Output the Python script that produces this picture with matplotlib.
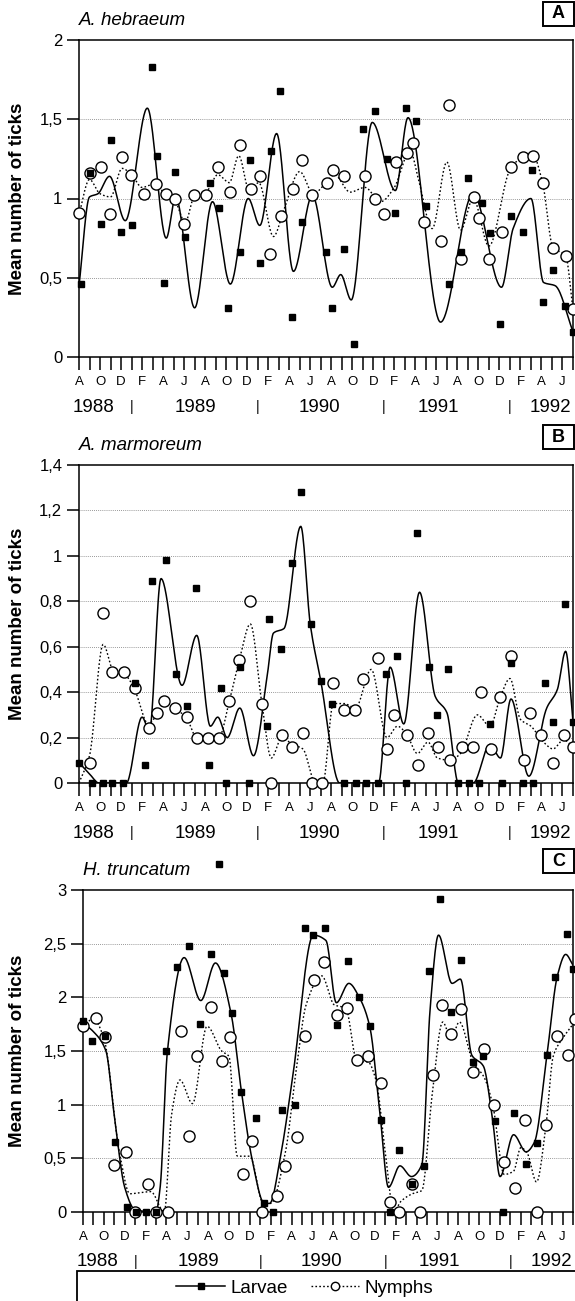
import numpy as np
import matplotlib
matplotlib.use("Agg")
import matplotlib.pyplot as plt
from matplotlib.lines import Line2D
from matplotlib.patches import Rectangle

plt.rcParams['font.family'] = ['Liberation Sans', 'DejaVu Sans']

# ----- Axis labels (months counted from Aug 1988 = 0) -----
month_labels = ['A', 'O', 'D', 'F', 'A', 'J'] * 4          # every 2nd month
years = ['1988', '1989', '1990', '1991', '1992']
year_pos = [1.4, 11.1, 22.9, 34.2, 44.9]
year_breaks = [5, 17, 29, 41]                              # January

# ----- A. hebraeum -----
heb_larvae = [(0.2, 0.46), (1.05, 1.16), (2.1, 0.84), (3.0, 1.37), (4.0, 0.79), (5.0, 0.83),
              (6.95, 1.83), (7.4, 1.27), (8.1, 0.47), (9.1, 1.17), (10.1, 0.76), (12.5, 1.10),
              (13.3, 0.94), (14.2, 0.31), (15.3, 0.66), (16.3, 1.24), (17.2, 0.59), (18.3, 1.30),
              (19.1, 1.68), (20.3, 0.25), (21.2, 0.85), (23.5, 0.66), (24.1, 0.31), (25.2, 0.68),
              (26.2, 0.08), (27.0, 1.44), (28.2, 1.55), (29.3, 1.25), (30.1, 0.91), (31.1, 1.57),
              (32.1, 1.49), (33.0, 0.95), (35.2, 0.46), (36.3, 0.66), (37.0, 1.13), (38.3, 0.97),
              (39.1, 0.78), (40.1, 0.21), (41.1, 0.89), (42.2, 0.79), (43.1, 1.18), (44.1, 0.35),
              (45.1, 0.55), (46.2, 0.32), (47.0, 0.16)]
heb_nymphs = [(0.0, 0.91), (1.05, 1.16), (2.1, 1.20), (2.95, 0.90), (4.1, 1.26), (4.9, 1.15),
              (6.2, 1.03), (7.3, 1.09), (8.3, 1.03), (9.1, 1.00), (10.0, 0.84), (10.9, 1.02),
              (12.1, 1.02), (13.2, 1.20), (14.4, 1.04), (15.3, 1.34), (16.4, 1.06), (17.2, 1.14),
              (18.2, 0.65), (19.2, 0.89), (20.4, 1.06), (21.2, 1.24), (22.2, 1.02), (23.6, 1.10),
              (24.2, 1.18), (25.2, 1.14), (27.2, 1.14), (28.2, 1.00), (29.0, 0.90), (30.2, 1.23),
              (31.2, 1.29), (31.8, 1.35), (32.8, 0.85), (34.4, 0.73), (35.2, 1.59), (36.3, 0.62),
              (37.6, 1.01), (38.1, 0.88), (39.0, 0.62), (40.2, 0.79), (41.1, 1.20), (42.2, 1.26),
              (43.2, 1.27), (44.1, 1.10), (45.1, 0.69), (46.3, 0.64), (47.0, 0.30)]
heb_larvae_fit = [(0.0, 0.45), (1.0, 1.01), (1.8, 1.03), (2.9, 1.14), (4.4, 0.86), (6.5, 1.57),
                  (8.3, 0.75), (9.2, 1.01), (11.0, 0.31), (12.7, 0.98), (14.4, 0.46), (16.1, 1.00),
                  (17.2, 0.83), (18.8, 1.41), (20.4, 0.54), (22.2, 1.02), (24.1, 0.44), (24.9, 0.52),
                  (25.9, 0.36), (27.9, 1.48), (30.1, 1.05), (31.3, 1.51), (34.4, 0.22), (37.5, 1.03),
                  (40.2, 0.44), (41.3, 0.81), (43.0, 1.00), (44.2, 0.47), (45.3, 0.45), (47.0, 0.16)]
heb_nymphs_fit = [(0.0, 0.90), (1.0, 1.12), (2.0, 1.03), (3.0, 1.01), (4.1, 1.19), (5.0, 1.15),
                  (6.0, 1.07), (7.1, 1.09), (8.2, 1.03), (9.1, 0.99), (10.1, 0.85), (11.0, 1.02),
                  (12.2, 1.05), (13.2, 1.15), (14.3, 1.10), (15.2, 1.27), (16.2, 1.05), (17.1, 1.10),
                  (18.5, 0.76), (19.5, 0.93), (21.0, 1.17), (22.3, 1.03), (23.5, 1.10), (24.3, 1.15),
                  (25.8, 1.04), (27.2, 1.07), (28.7, 0.98), (30.0, 1.07), (31.5, 1.30), (32.3, 1.12),
                  (33.6, 0.81), (35.0, 1.23), (36.3, 0.80), (37.5, 1.00), (39.0, 0.70), (41.0, 1.18),
                  (42.2, 1.26), (43.2, 1.27), (44.1, 1.10), (45.1, 0.69), (46.3, 0.64), (47.0, 0.30)]

# ----- A. marmoreum -----
mar_larvae = [(0.0, 0.09), (1.2, 0.0), (2.3, 0.0), (3.1, 0.0), (4.2, 0.0), (5.3, 0.44), (6.3, 0.08),
              (6.9, 0.89), (8.3, 0.98), (9.2, 0.48), (10.3, 0.34), (11.1, 0.86), (12.4, 0.08),
              (13.5, 0.42), (14.0, 0.0), (15.3, 0.51), (16.2, 0.0), (17.9, 0.25), (18.1, 0.72),
              (19.2, 0.59), (20.3, 0.97), (21.1, 1.28), (22.1, 0.70), (23.0, 0.45), (24.1, 0.35),
              (25.2, 0.0), (26.4, 0.0), (27.3, 0.0), (28.4, 0.0), (29.2, 0.48), (30.3, 0.56),
              (31.1, 0.0), (32.2, 1.10), (33.3, 0.51), (34.1, 0.30), (35.1, 0.50), (36.1, 0.0),
              (37.1, 0.0), (38.1, 0.0), (39.1, 0.26), (40.2, 0.0), (41.1, 0.53), (42.2, 0.0),
              (43.2, 0.0), (44.3, 0.44), (45.1, 0.27), (46.2, 0.79), (47.0, 0.27)]
mar_nymphs = [(1.05, 0.09), (2.3, 0.75), (3.1, 0.49), (4.3, 0.49), (5.3, 0.42), (6.7, 0.24),
              (7.4, 0.31), (8.1, 0.36), (9.1, 0.33), (10.3, 0.29), (11.2, 0.20), (12.3, 0.20),
              (13.3, 0.20), (14.3, 0.36), (15.2, 0.54), (16.3, 0.80), (17.4, 0.35), (18.3, 0.0),
              (19.3, 0.21), (20.3, 0.16), (21.3, 0.22), (22.2, 0.0), (23.1, 0.0), (24.2, 0.44),
              (25.2, 0.32), (26.3, 0.32), (27.0, 0.46), (28.4, 0.55), (29.3, 0.15), (30.0, 0.30),
              (31.2, 0.21), (32.3, 0.08), (33.2, 0.22), (34.2, 0.16), (35.3, 0.10), (36.4, 0.16),
              (37.5, 0.16), (38.2, 0.40), (39.2, 0.15), (40.1, 0.38), (41.1, 0.56), (42.3, 0.10),
              (42.9, 0.31), (44.0, 0.21), (45.1, 0.09), (46.1, 0.21), (47.0, 0.16)]
mar_larvae_fit = [(0.0, 0.09), (1.0, 0.04), (1.9, 0.0), (4.5, 0.0), (6.0, 0.29), (6.7, 0.23),
                  (7.8, 0.90), (9.8, 0.43), (11.2, 0.65), (12.5, 0.25), (13.2, 0.29), (14.1, 0.20),
                  (15.3, 0.33), (16.6, 0.12), (17.9, 0.47), (18.5, 0.66), (19.5, 0.68), (21.1, 1.13),
                  (22.0, 0.70), (23.0, 0.45), (24.8, 0.0), (28.5, 0.0), (29.6, 0.51), (30.9, 0.26),
                  (32.4, 0.84), (33.9, 0.38), (35.0, 0.31), (36.1, 0.0), (37.5, 0.0), (39.1, 0.17),
                  (40.1, 0.11), (41.1, 0.37), (42.8, 0.03), (44.5, 0.33), (45.5, 0.41), (46.3, 0.58),
                  (47.0, 0.27)]
mar_nymphs_fit = [(0.0, 0.0), (1.0, 0.12), (2.3, 0.61), (3.3, 0.49), (4.5, 0.47), (5.3, 0.41),
                  (6.6, 0.26), (7.4, 0.30), (8.1, 0.35), (9.1, 0.33), (10.3, 0.28), (11.2, 0.20),
                  (13.3, 0.20), (14.3, 0.36), (15.3, 0.55), (16.3, 0.70), (17.4, 0.35), (18.3, 0.11),
                  (19.3, 0.20), (20.3, 0.17), (21.3, 0.15), (22.5, 0.0), (23.2, 0.0), (24.2, 0.35),
                  (25.2, 0.35), (26.3, 0.33), (27.8, 0.50), (29.3, 0.20), (30.3, 0.25), (31.1, 0.22),
                  (32.2, 0.13), (33.2, 0.18), (34.1, 0.11), (35.3, 0.10), (36.3, 0.13), (37.9, 0.30),
                  (39.1, 0.25), (40.1, 0.38), (41.0, 0.46), (42.0, 0.28), (43.0, 0.25), (44.2, 0.18),
                  (45.1, 0.15), (46.1, 0.19), (47.0, 0.16)]

# ----- H. truncatum -----
tru_larvae = [(0.0, 1.78), (0.9, 1.59), (2.1, 1.64), (3.1, 0.65), (4.2, 0.05), (5.1, 0.0), (6.0, 0.0),
              (7.0, 0.0), (8.0, 1.50), (9.0, 2.28), (10.2, 2.48), (11.25, 1.75), (12.3, 2.40),
              (13.0, 3.24), (13.5, 2.23), (14.3, 1.85), (15.2, 1.12), (16.6, 0.88), (17.4, 0.08),
              (18.2, 0.0), (19.1, 0.95), (20.3, 1.00), (21.25, 2.65), (22.1, 2.58), (23.2, 2.65),
              (24.4, 1.74), (25.4, 2.34), (26.5, 2.00), (27.5, 1.73), (28.6, 0.86), (29.4, 0.0),
              (30.3, 0.58), (31.6, 0.26), (32.7, 0.43), (33.2, 2.25), (34.2, 2.92), (35.3, 1.86),
              (36.3, 2.35), (37.4, 1.40), (38.4, 1.45), (39.5, 0.85), (40.3, 0.0), (41.3, 0.92),
              (42.5, 0.45), (43.5, 0.64), (44.5, 1.46), (45.3, 2.19), (46.4, 2.59), (47.0, 2.26)]
tru_nymphs = [(0.0, 1.73), (1.2, 1.81), (2.1, 1.63), (3.0, 0.44), (4.1, 0.56), (5.0, 0.0), (6.2, 0.26),
              (7.0, 0.0), (8.2, 0.0), (9.4, 1.69), (10.2, 0.71), (10.9, 1.45), (12.3, 1.91),
              (13.3, 1.41), (14.1, 1.63), (15.3, 0.35), (16.2, 0.66), (17.2, 0.0), (18.6, 0.15),
              (19.4, 0.43), (20.5, 0.70), (21.3, 1.64), (22.2, 2.16), (23.1, 2.33), (24.4, 1.84),
              (25.3, 1.90), (26.3, 1.42), (27.3, 1.45), (28.6, 1.20), (29.4, 0.09), (30.3, 0.0),
              (31.6, 0.26), (32.3, 0.0), (33.6, 1.28), (34.4, 1.93), (35.3, 1.66), (36.3, 1.89),
              (37.4, 1.30), (38.5, 1.52), (39.4, 1.00), (40.4, 0.47), (41.4, 0.22), (42.4, 0.86),
              (43.5, 0.0), (44.4, 0.81), (45.5, 1.64), (46.5, 1.46), (47.2, 1.80)]
tru_larvae_fit = [(0.0, 1.76), (1.0, 1.68), (2.2, 1.50), (3.0, 0.90), (4.0, 0.23), (5.0, 0.02),
                  (7.0, 0.0), (7.4, 0.23), (8.1, 1.50), (9.7, 2.37), (11.3, 1.97), (12.7, 2.32),
                  (14.2, 1.85), (15.2, 1.12), (16.2, 0.50), (17.4, 0.08), (17.9, 0.08), (19.0, 0.55),
                  (20.1, 1.25), (22.1, 2.58), (23.3, 2.53), (24.3, 1.95), (25.5, 2.13), (26.5, 2.00),
                  (27.5, 1.73), (28.5, 0.90), (29.3, 0.23), (30.4, 0.43), (31.5, 0.33), (32.5, 0.44),
                  (33.3, 1.90), (34.1, 2.58), (35.4, 2.13), (36.2, 2.17), (37.3, 1.46), (38.4, 1.36),
                  (39.3, 0.85), (40.0, 0.33), (41.3, 0.72), (42.5, 0.56), (43.3, 0.65), (44.5, 1.46),
                  (45.5, 2.20), (46.3, 2.40), (47.0, 2.30)]
tru_nymphs_fit = [(0.0, 1.73), (1.0, 1.80), (2.0, 1.62), (3.5, 0.55), (4.5, 0.17), (5.5, 0.18),
                  (6.5, 0.19), (7.8, 0.0), (8.5, 0.91), (9.3, 1.23), (10.5, 1.01), (11.9, 1.73),
                  (13.3, 1.50), (14.0, 1.45), (14.8, 0.52), (16.0, 0.52), (17.3, 0.08), (18.0, 0.08),
                  (19.4, 0.55), (20.5, 1.36), (21.4, 1.93), (22.9, 2.20), (24.1, 1.93), (25.2, 1.90),
                  (26.3, 1.40), (27.3, 1.40), (28.1, 1.23), (29.0, 0.55), (29.8, 0.0), (30.5, 0.10),
                  (31.6, 0.17), (32.5, 0.20), (33.5, 1.10), (34.5, 1.77), (35.3, 1.62), (36.1, 1.77),
                  (37.4, 1.40), (38.5, 1.25), (39.3, 1.00), (40.4, 0.35), (41.3, 0.38), (42.0, 0.60),
                  (42.6, 0.55), (43.5, 0.28), (44.4, 0.80), (45.1, 1.45), (46.1, 1.63), (47.0, 1.75)]


def smooth(knots, n=800):
    """monotone cubic (pchip) curve through the read points of the fitted line"""
    x = np.array([k[0] for k in knots], float)
    y = np.array([k[1] for k in knots], float)
    h = np.diff(x)
    d = np.diff(y) / h
    m = np.zeros_like(y)
    for k in range(1, len(x) - 1):
        if d[k - 1] * d[k] > 0:
            w1 = 2 * h[k] + h[k - 1]
            w2 = h[k] + 2 * h[k - 1]
            m[k] = (w1 + w2) / (w1 / d[k - 1] + w2 / d[k])
    m[0] = d[0]
    m[-1] = d[-1]
    xs = np.linspace(x[0], x[-1], n)
    i = np.clip(np.searchsorted(x, xs) - 1, 0, len(h) - 1)
    t = (xs - x[i]) / h[i]
    ys = ((2 * t**3 - 3 * t**2 + 1) * y[i] + (t**3 - 2 * t**2 + t) * h[i] * m[i]
          + (-2 * t**3 + 3 * t**2) * y[i + 1] + (t**3 - t**2) * h[i] * m[i + 1])
    return xs, ys


def fmt(v):
    s = ('%.1f' % v).rstrip('0').rstrip('.')
    return s.replace('.', ',')


W, H = 575, 1301
fig = plt.figure(figsize=(W / 100, H / 100), dpi=100)


def px_axes(left, top, right, bottom):
    return fig.add_axes([left / W, 1 - bottom / H, (right - left) / W, (bottom - top) / H])


def draw_panel(ax, larvae, nymphs, lfit, nfit, yticks, title, letter, box_y):
    ymax = yticks[-1]
    xs, ys = smooth(lfit)
    ax.plot(xs, ys, color='black', lw=1.1, zorder=3)
    xs, ys = smooth(nfit)
    ax.plot(xs, ys, color='black', lw=1.0, ls=(0, (1.2, 1.6)), zorder=3)
    ax.plot([p[0] for p in nymphs], [p[1] for p in nymphs], 'o', ms=8, mfc='white',
            mec='black', mew=1.0, zorder=4, clip_on=False)
    ax.plot([p[0] for p in larvae], [p[1] for p in larvae], 's', ms=3.8, color='black',
            zorder=5, clip_on=False)

    ax.set_xlim(0, 47)
    ax.set_ylim(0, ymax)
    ax.set_yticks(yticks)
    ax.set_yticklabels([fmt(v) for v in yticks], fontsize=12)
    ax.set_xticks(range(48))
    ax.set_xticklabels([month_labels[i // 2] if i % 2 == 0 else '' for i in range(48)], fontsize=9.5)
    ax.tick_params(axis='both', direction='out', length=9, width=1.1, color='black')
    ax.tick_params(axis='x', pad=5)
    ax.tick_params(axis='y', pad=3)
    for v in yticks[1:-1]:
        ax.axhline(v, color='#777777', lw=0.6, ls=(0, (1, 1.5)), zorder=1)
    for sp in ax.spines.values():
        sp.set_linewidth(1.1)

    for y, p in zip(years, year_pos):
        ax.annotate(y, xy=(p, 0), xycoords=('data', 'axes fraction'), xytext=(0, -36),
                    textcoords='offset points', ha='center', va='center', fontsize=13.5)
    for b in year_breaks:
        ax.annotate('|', xy=(b, 0), xycoords=('data', 'axes fraction'), xytext=(0, -36),
                    textcoords='offset points', ha='center', va='center', fontsize=10)

    ax.set_ylabel('Mean number of ticks', fontsize=13.5, fontweight='bold')
    ax.annotate(title, xy=(0, 1), xycoords='axes fraction', xytext=(0, 14),
                textcoords='offset points', ha='left', va='center', fontsize=13.5, style='italic')

    # panel letter box
    fig.add_artist(Rectangle((543 / W, 1 - (box_y + 12) / H), 31 / W, 24 / H,
                             transform=fig.transFigure, fill=False, lw=1.4, color='black'))
    fig.text(558.5 / W, 1 - box_y / H, letter, ha='center', va='center', fontsize=13,
             fontweight='bold')


ax_a = px_axes(79, 40, 573, 357)
ax_b = px_axes(79, 465, 573, 783)
ax_c = px_axes(83, 890, 573, 1212)

draw_panel(ax_a, heb_larvae, heb_nymphs, heb_larvae_fit, heb_nymphs_fit,
           [0, 0.5, 1, 1.5, 2], 'A. hebraeum', 'A', 14)
draw_panel(ax_b, mar_larvae, mar_nymphs, mar_larvae_fit, mar_nymphs_fit,
           [0, 0.2, 0.4, 0.6, 0.8, 1, 1.2, 1.4], 'A. marmoreum', 'B', 437)
draw_panel(ax_c, tru_larvae, tru_nymphs, tru_larvae_fit, tru_nymphs_fit,
           [0, 0.5, 1, 1.5, 2, 2.5, 3], 'H. truncatum', 'C', 861)
for ax in (ax_a, ax_b):
    ax.yaxis.set_label_coords(-53 / 494, 0.5)
ax_c.yaxis.set_label_coords(-57 / 490, 0.5)

# ----- legend -----
fig.add_artist(Rectangle((77 / W, -0.01), 1.0, (1301 - 1271) / H + 0.01,
                         transform=fig.transFigure, fill=False, lw=1.3, color='black'))
handles = [Line2D([], [], color='black', lw=1.1, marker='s', ms=3.8),
           Line2D([], [], color='black', lw=1.0, ls=(0, (1.2, 1.6)), marker='o', ms=6,
                  mfc='white', mew=1.0)]
fig.legend(handles, ['Larvae', 'Nymphs'], loc='center', bbox_to_anchor=(305 / W, 1 - 1288 / H),
           ncol=2, frameon=False, fontsize=13.5, handlelength=2.6, columnspacing=1.2,
           handletextpad=0.3)

fig.savefig('out.png', dpi=100)
